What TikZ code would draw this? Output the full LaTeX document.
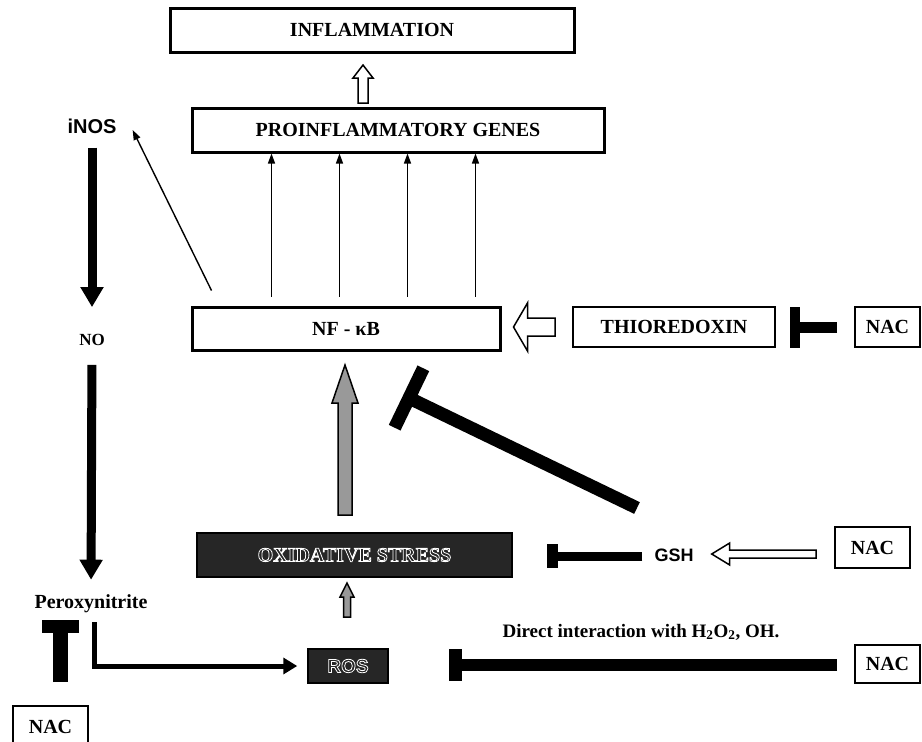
\documentclass[tikz,border=0pt]{standalone}
\usepackage{fontspec}
\setmainfont{Liberation Serif}
\setsansfont{Liberation Sans}
\usetikzlibrary{calc,arrows.meta}
\newcommand\hollowV[6]{\draw[#6] let \p1=#1, \p2=#2 in (\x1-#3,\y1) -- (\x1-#3,\y2-#5) -- (\x1-#4,\y2-#5) -- (\x2,\y2) -- (\x1+#4,\y2-#5) -- (\x1+#3,\y2-#5) -- (\x1+#3,\y1) -- cycle;}
\newcommand\hollowH[6]{\draw[#6] let \p1=#1, \p2=#2 in (\x1,\y1-#3) -- (\x2+#5,\y1-#3) -- (\x2+#5,\y1-#4) -- (\x2,\y2) -- (\x2+#5,\y1+#4) -- (\x2+#5,\y1+#3) -- (\x1,\y1+#3) -- cycle;}
\newcommand\teebar[5]{\draw[line width=#3] #1 -- #2; \draw[line width=#4] ($#2!#5!90:#1$) -- ($#2!#5!-90:#1$);}
\newcommand\outl[1]{\special{pdf:literal direct 1 Tr 0.8 w 1 G}#1\special{pdf:literal direct 0 Tr}}
\newcommand\bx{\bfseries\fontsize{20}{24}\selectfont}
\begin{document}
\begin{tikzpicture}[x=1pt,y=-1pt,
  bigbox/.style={draw,line width=3pt,fill=white,inner sep=0pt,font=\bx},
  smallbox/.style={draw,line width=1.8pt,fill=white,inner sep=0pt,font=\bx},
  darkbox/.style={draw=black,line width=1.5pt,fill=black!85,text=white,inner sep=0pt,font=\bx},
  lab/.style={inner sep=0pt,font=\bx},
  slab/.style={inner sep=0pt,font=\sffamily\bfseries\fontsize{20}{24}\selectfont},
  fat/.style={line width=9pt,-{Triangle[length=20pt,width=22pt]}},
  slim/.style={line width=1.4pt,-{Triangle[length=10pt,width=7pt]}},
  hol/.style={draw,line width=1.5pt,fill=white,line join=miter},
  gry/.style={draw,line width=1.5pt,fill=black!40,line join=miter}]
\fill[white] (0,0) rectangle (922,742);
\useasboundingbox (0,0) rectangle (922,742);
% boxes
\node[bigbox,minimum width=404pt,minimum height=44pt] (infl) at (372,30) {INFLAMMATION};
\node[bigbox,minimum width=412pt,minimum height=44pt] (pro) at (398,130) {PROINFLAMMATORY GENES};
\node[bigbox,minimum width=308pt,minimum height=43pt] (nf) at (346,328.5) {NF - κB};
\node[smallbox,minimum width=202pt,minimum height=40pt] (thio) at (674,327) {THIOREDOXIN};
\node[smallbox,minimum width=65pt,minimum height=40pt] (nacA) at (887.5,327) {NAC};
\node[darkbox,minimum width=315pt,minimum height=44pt] (ox) at (354.5,555) {\outl{OXIDATIVE STRESS}};
\node[darkbox,font=\sffamily\bfseries\fontsize{19}{22}\selectfont,minimum width=80pt,minimum height=34pt] (ros) at (348,666) {\outl{ROS}};
\node[smallbox,minimum width=75pt,minimum height=41pt] (nacB) at (872.5,547.5) {NAC};
\node[smallbox,minimum width=65pt,minimum height=38pt] (nacC) at (887.5,664) {NAC};
\node[smallbox,minimum width=75pt,minimum height=42pt] (nacD) at (50.5,727) {NAC};
% labels
\node[slab] (inos) at (92,126) {iNOS};
\node[lab,font=\bfseries\fontsize{17}{20}\selectfont] (no) at (92,340) {NO};
\node[lab] (perox) at (91,604) {Peroxynitrite};
\node[slab,font=\sffamily\bfseries\fontsize{18}{22}\selectfont] (gsh) at (674,555) {GSH};
\node[lab,font=\bfseries\fontsize{19}{22}\selectfont] (direct) at (641,632) {Direct interaction with H\textsubscript{2}O\textsubscript{2}, OH.};
% thick arrows on the left
\draw[fat,shorten <=14pt,shorten >=27pt] (inos.south) -- (no.north);
\draw[fat,shorten <=19pt,shorten >=15pt] (no.south) -- (perox.north);
% NF-kB -> iNOS
\draw[slim] ($(nf.north west)+(21,-15)$) -- ($(inos.east)+(16,4)$);
% NF-kB -> genes
\foreach \dx in {81,149,217,285}
  \draw[slim] ($(nf.north west)+(\dx,-9)$) -- ($(pro.south west)+(\dx,0)$);
% genes -> inflammation
\coordinate (iT) at (363,103); \coordinate (iP) at (363,65);
\hollowV{(iT)}{(iP)}{5pt}{10pt}{13pt}{hol}
% thioredoxin -> NF-kB
\coordinate (tT) at ($(thio.west)+(-17,0)$); \coordinate (tP) at ($(nf.east)+(12,-1.5)$);
\hollowH{(tT)}{(tP)}{9pt}{24pt}{14pt}{hol}
% NAC -| thioredoxin
\coordinate (a0) at ($(nacA.west)+(-17,0.5)$); \coordinate (a1) at (795,327.5);
\teebar{(a0)}{(a1)}{11pt}{10pt}{20.5pt}
% oxidative stress -> NF-kB
\coordinate (gT) at (345,515); \coordinate (gP) at (345,365);
\hollowV{(gT)}{(gP)}{7pt}{13pt}{38pt}{gry}
% ROS -> oxidative stress
\coordinate (rT) at (347,617); \coordinate (rP) at (347,583);
\hollowV{(rT)}{(rP)}{3.5pt}{7pt}{14pt}{gry}
% GSH -| NF-kB
\coordinate (d0) at (637,508); \coordinate (d1) at (409,398);
\teebar{(d0)}{(d1)}{13pt}{13pt}{33pt}
% GSH -| oxidative stress
\coordinate (s0) at ($(gsh.west)+(-12,1)$); \coordinate (s1) at (552.5,556);
\teebar{(s0)}{(s1)}{9pt}{11pt}{12pt}
% NAC -> GSH
\coordinate (nT) at ($(nacB.west)+(-18,6.5)$); \coordinate (nP) at ($(gsh.east)+(18,-1)$);
\hollowH{(nT)}{(nP)}{4pt}{11pt}{18pt}{hol}
% NAC -| ROS
\coordinate (e0) at ($(nacC.west)+(-17,1)$); \coordinate (e1) at (455,665);
\teebar{(e0)}{(e1)}{12pt}{13pt}{16pt}
% NAC -| peroxynitrite
\coordinate (p0) at ($(nacD.north)+(10,-23)$); \coordinate (p1) at (60.5,626.5);
\teebar{(p0)}{(p1)}{15pt}{13pt}{18.5pt}
% peroxynitrite -> ROS
\draw[line width=5pt,-{Triangle[length=14pt,width=16pt]}] ($(perox.south)+(3,9)$) |- ($(ros.west)+(-10,0)$);
\end{tikzpicture}
\end{document}
